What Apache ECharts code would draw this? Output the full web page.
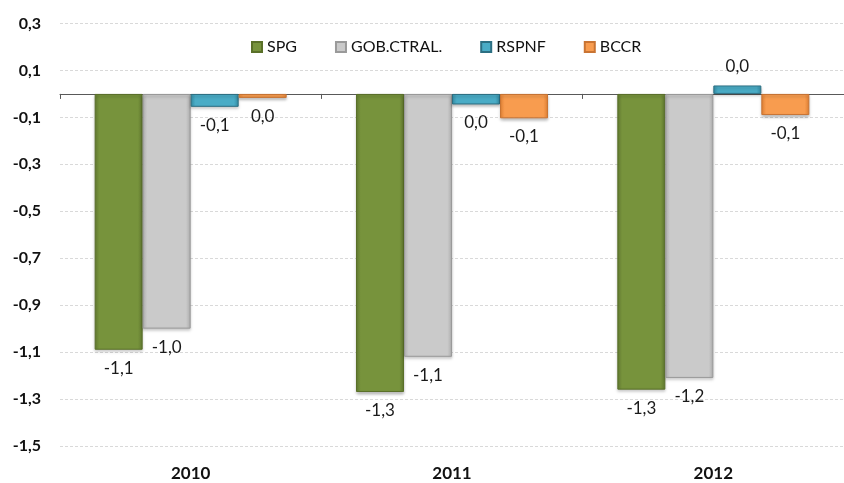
<!DOCTYPE html>
<html>
<head>
<meta charset="utf-8">
<script src="https://cdn.jsdelivr.net/npm/echarts@6/dist/echarts.min.js"></script>
<style>
  html, body { margin: 0; padding: 0; background: #fff; }
  #chart { width: 844px; height: 483px; }
</style>
</head>
<body>
<div id="chart"></div>
<script>
// datos
const years = ['2010', '2011', '2012'];
const spg = [-1.09, -1.27, -1.26];
const gob = [-1.0, -1.12, -1.21];
const rspnf = [-0.055, -0.045, 0.036];
const bccr = [-0.017, -0.104, -0.09];
const seriesNames = ['SPG', 'GOB.CTRAL.', 'RSPNF', 'BCCR'];

const FONT = 'Lato';

// formato con coma decimal
function fmt(v) {
  let r = Math.round(v * 10) / 10;
  if (r === 0) r = 0;
  return r.toFixed(1).replace('.', ',');
}

// relleno con efecto bisel
function bevel(edge, mid) {
  return new echarts.graphic.LinearGradient(0, 0, 1, 0, [
    { offset: 0, color: edge },
    { offset: 0.1, color: mid },
    { offset: 0.9, color: mid },
    { offset: 1, color: edge }
  ]);
}

const styles = [
  { fill: bevel('#667f33', '#77933c'), border: '#5a7029' },
  { fill: bevel('#b8b8b8', '#cacaca'), border: '#9a9a9a' },
  { fill: bevel('#3592ab', '#4aacc6'), border: '#2c6f82' },
  { fill: bevel('#ea8636', '#f89c4f'), border: '#c97433' }
];

function makeSeries(name, values, idx) {
  return {
    name: name,
    type: 'bar',
    xAxisIndex: 0,
    barWidth: 48,
    barGap: '0%',
    data: values,
    itemStyle: {
      color: styles[idx].fill,
      borderColor: styles[idx].border,
      borderWidth: 1,
      shadowColor: 'rgba(0,0,0,0.25)',
      shadowBlur: 3,
      shadowOffsetY: 2
    },
    label: {
      show: true,
      position: 'outside',
      distance: 10,
      color: '#1a1a1a',
      fontFamily: FONT,
      fontSize: 17,
      formatter: p => fmt(p.value)
    }
  };
}

const myChart = echarts.init(document.getElementById('chart'));
const option = {
  animation: false,
  textStyle: { fontFamily: FONT },
  legend: {
    top: 34,
    left: 246,
    itemWidth: 10,
    itemHeight: 10,
    itemGap: 38,
    icon: 'rect',
    textStyle: { fontFamily: FONT, fontSize: 16, color: '#111' },
    data: seriesNames
  },
  grid: {
    left: 60,
    top: 23.5,
    width: 798,
    bottom: 37,
    containLabel: false
  },
  xAxis: [
    {
      type: 'category',
      data: years,
      position: 'bottom',
      axisLine: { show: false, onZero: false },
      axisTick: { show: false },
      axisLabel: {
        margin: 19,
        fontFamily: FONT,
        fontSize: 17,
        fontWeight: 'bold',
        color: '#111'
      }
    },
    {
      type: 'category',
      data: years,
      position: 'bottom',
      axisLine: { show: true, onZero: true, lineStyle: { color: '#595959', width: 1 } },
      axisTick: { show: true, length: 5, lineStyle: { color: '#595959' } },
      axisLabel: { show: false }
    }
  ],
  yAxis: {
    type: 'value',
    min: -1.5,
    max: 0.3,
    interval: 0.2,
    axisLine: { show: false },
    axisTick: { show: false },
    splitLine: { show: true, lineStyle: { color: '#d9d9d9', type: [3, 2] } },
    axisLabel: {
      margin: 19,
      fontFamily: FONT,
      fontSize: 16,
      fontWeight: 'bold',
      color: '#111',
      formatter: v => v.toFixed(1).replace('.', ',')
    }
  },
  series: [
    makeSeries(seriesNames[0], spg, 0),
    makeSeries(seriesNames[1], gob, 1),
    makeSeries(seriesNames[2], rspnf, 2),
    makeSeries(seriesNames[3], bccr, 3)
  ]
};
myChart.setOption(option);
window.onresize = myChart.resize;
</script>
</body>
</html>
